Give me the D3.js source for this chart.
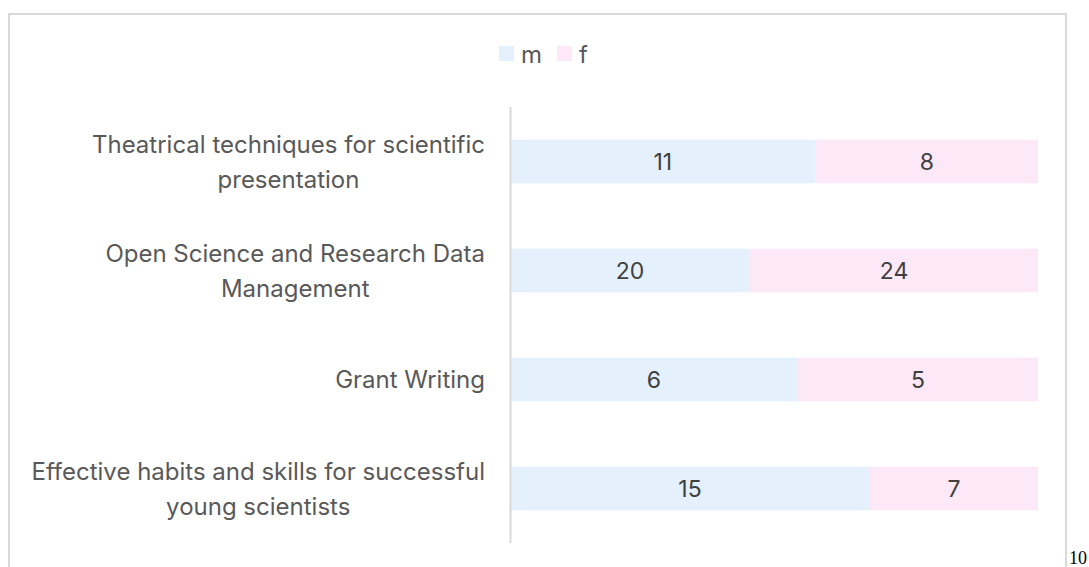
<!DOCTYPE html>
<html><head><meta charset="utf-8">
<script src="https://cdn.jsdelivr.net/npm/d3@7"></script>
<style>html,body{margin:0;padding:0;background:#fff;overflow:hidden}</style>
</head><body><svg id="c" width="1089" height="567"></svg>
<script>
const categories = [
  ["Theatrical techniques for scientific", "presentation"],
  ["Open Science and Research Data", "Management"],
  ["Grant Writing"],
  ["Effective habits and skills for successful", "young scientists"]
];
const seriesNames = ["m", "f"];
const mValues = [11, 20, 6, 15];
const fValues = [8, 24, 5, 7];
const colors = ["#e4f0fc", "#fde8f7"];

const svg = d3.select("#c");
const font = "Inter, 'Open Sans', sans-serif";

// chart border
svg.append("rect").attr("x", 9).attr("y", 14).attr("width", 1057).attr("height", 600)
  .attr("fill", "none").attr("stroke", "#d9d9d9").attr("stroke-width", 2);

const x = d3.scaleLinear().domain([0, 1]).range([510, 1038]);
const y = d3.scaleBand().domain(d3.range(categories.length)).range([107, 543]).paddingInner(0.6).paddingOuter(0.3);

const data = categories.map((c, i) => ({i, m: mValues[i], f: fValues[i], tot: mValues[i] + fValues[i]}));
const series = [mValues, fValues];

seriesNames.forEach((s, si) => {
  const g = svg.append("g");
  data.forEach(d => {
    const start = si === 0 ? 0 : d.m / d.tot;
    const end = si === 0 ? d.m / d.tot : 1;
    g.append("rect").attr("x", x(start)).attr("y", y(d.i)).attr("width", x(end) - x(start))
      .attr("height", y.bandwidth()).attr("fill", colors[si]);
    g.append("text").attr("x", (x(start) + x(end)) / 2).attr("y", y(d.i) + y.bandwidth() / 2)
      .attr("dy", "0.36em").attr("text-anchor", "middle").attr("font-family", font)
      .attr("font-size", 23).attr("fill", "#404040").text(series[si][d.i]);
  });
});

// axis line
svg.append("line").attr("x1", 510.5).attr("x2", 510.5).attr("y1", 107).attr("y2", 543)
  .attr("stroke", "#d9d9d9").attr("stroke-width", 2);

// category labels
categories.forEach((lines, i) => {
  const cy = y(i) + y.bandwidth() / 2;
  const lh = 35;
  const t = svg.append("text").attr("text-anchor", "middle").attr("font-family", font)
    .attr("font-size", 24).attr("fill", "#595959");
  lines.forEach((ln, k) => {
    t.append("tspan").attr("x", 0).attr("y", cy + (k - (lines.length - 1) / 2) * lh).attr("dy", "0.36em").text(ln);
  });
  const w = t.node().getBBox().width;
  t.selectAll("tspan").attr("x", 485 - w / 2);
});

// legend
const lg = svg.append("g");
[["m", 499], ["f", 557]].forEach(([n, lx], i) => {
  lg.append("rect").attr("x", lx).attr("y", 46).attr("width", 15).attr("height", 15).attr("fill", colors[i]);
  lg.append("text").attr("x", lx + 22).attr("y", 54).attr("dy", "0.36em").attr("font-family", font)
    .attr("font-size", 24).attr("fill", "#595959").text(n);
});

// page number
svg.append("text").attr("x", 1069).attr("y", 564).attr("font-family", "'Liberation Serif', 'DejaVu Serif', serif")
  .attr("font-size", 18).attr("fill", "#000").text("10");
</script></body></html>
